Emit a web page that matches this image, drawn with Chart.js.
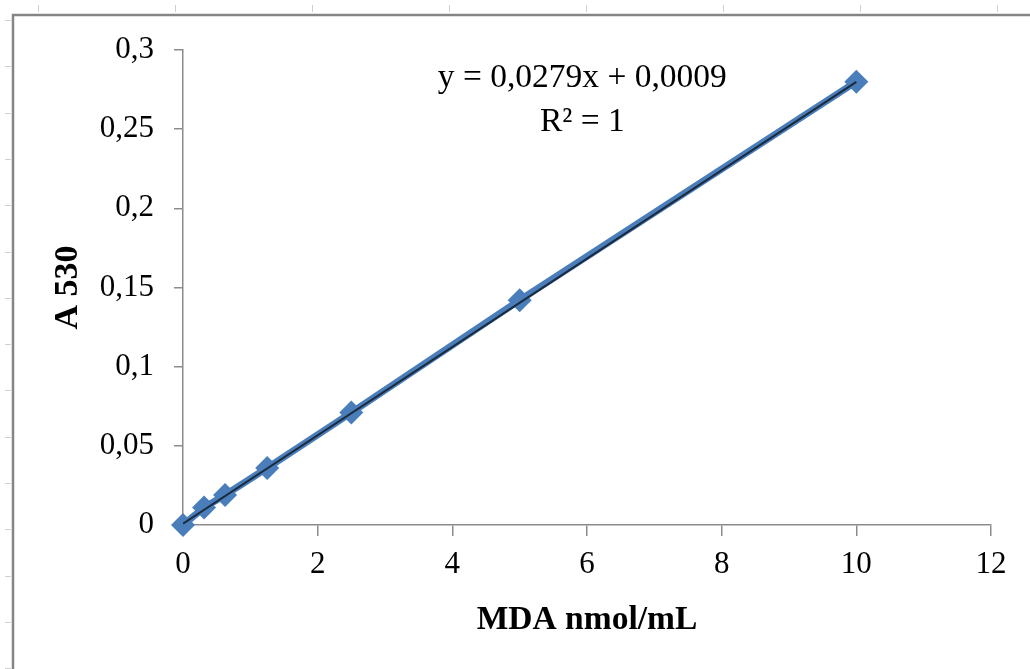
<!DOCTYPE html>
<html>
<head>
<meta charset="utf-8">
<script src="https://cdn.jsdelivr.net/npm/chart.js@4.4.1/dist/chart.umd.min.js"></script>
<style>
  html, body { margin: 0; padding: 0; background: #fff; }
  canvas { display: block; }
</style>
</head>
<body>
<canvas id="mda-curve" width="1030" height="669"></canvas>
<script>
// MDA standard curve, absorbance at 530 nm
const mdaConc = [0, 0.3125, 0.625, 1.25, 2.5, 5, 10];
const absorbance = [0, 0.011, 0.019, 0.036, 0.071, 0.142, 0.280];
const xTickLabels = ['0', '2', '4', '6', '8', '10', '12'];
const yTickLabels = ['0', '0,05', '0,1', '0,15', '0,2', '0,25', '0,3'];
const slope = 0.0279;
const intercept = 0.0009;
const equationLines = ['y = 0,0279x + 0,0009', 'R² = 1'];

const serif = "'Liberation Serif', 'Times New Roman', serif";
const markerBlue = '#4a7ebb';
const trendDark = '#1b2a3c';
const axisGrey = '#8c8c8c';

const points = mdaConc.map((x, i) => ({ x: x, y: absorbance[i] }));
const xMin = Math.min(...mdaConc);
const xMax = Math.max(...mdaConc);
const trend = [xMin, xMax].map((x) => ({ x: x, y: slope * x + intercept }));

// sheet frame and the little ruler marks around it
const frame = {
  id: 'frame',
  beforeDraw(chart) {
    const ctx = chart.ctx;
    ctx.save();
    ctx.strokeStyle = '#d0d0d0';
    ctx.lineWidth = 1;
    for (let y = 20; y < chart.height; y += 46.3) {
      ctx.beginPath();
      ctx.moveTo(5, Math.round(y) + 0.5);
      ctx.lineTo(11, Math.round(y) + 0.5);
      ctx.stroke();
    }
    for (let x = 38; x < chart.width; x += 137) {
      ctx.beginPath();
      ctx.moveTo(Math.round(x) + 0.5, 5);
      ctx.lineTo(Math.round(x) + 0.5, 12);
      ctx.stroke();
    }
    ctx.strokeStyle = '#858585';
    ctx.lineWidth = 2.5;
    ctx.strokeRect(13, 15, chart.width + 20, chart.height + 20);
    ctx.restore();
  },
};

// trendline equation, placed in data units
const equation = {
  id: 'equation',
  afterDraw(chart) {
    const { ctx, scales } = chart;
    const cx = scales.x.getPixelForValue(5.93);
    const cy = scales.y.getPixelForValue(0.2825);
    ctx.save();
    ctx.fillStyle = '#000';
    ctx.font = '33.5px ' + serif;
    ctx.textAlign = 'center';
    ctx.textBaseline = 'middle';
    equationLines.forEach((line, i) => ctx.fillText(line, cx, cy + i * 44));
    ctx.restore();
  },
};

new Chart(document.getElementById('mda-curve'), {
  type: 'scatter',
  data: {
    datasets: [
      {
        data: trend,
        showLine: true,
        borderColor: trendDark,
        borderWidth: 2,
        pointRadius: 0,
        order: 0,
      },
      {
        data: points,
        showLine: true,
        borderColor: markerBlue,
        borderWidth: 7,
        pointStyle: 'rectRot',
        pointRadius: 12,
        pointBackgroundColor: markerBlue,
        pointBorderWidth: 0,
        clip: false,
        order: 1,
      },
    ],
  },
  options: {
    responsive: false,
    animation: false,
    layout: {
      padding: { top: 50, right: 39, left: 0, bottom: 0 },
    },
    scales: {
      x: {
        type: 'linear',
        min: 0,
        max: 12,
        afterFit: (scale) => { scale.height = 144; },
        border: { color: axisGrey, width: 1.5 },
        grid: {
          drawOnChartArea: false,
          color: axisGrey,
          lineWidth: 1.5,
          tickLength: 11,
        },
        ticks: {
          stepSize: 2,
          padding: 10,
          color: '#000',
          font: { family: serif, size: 31, lineHeight: 1.2 },
          callback: (value) => xTickLabels[Math.round(value / 2)],
        },
        title: {
          display: true,
          text: 'MDA nmol/mL',
          color: '#000',
          font: { family: serif, size: 33.5, weight: 'bold', lineHeight: 1.2 },
          padding: { top: 0, bottom: 29 },
        },
      },
      y: {
        min: 0,
        max: 0.3,
        afterFit: (scale) => { scale.width = 183; },
        border: { color: axisGrey, width: 1.5 },
        grid: {
          drawOnChartArea: false,
          color: axisGrey,
          lineWidth: 1.5,
          tickLength: 9,
        },
        ticks: {
          stepSize: 0.05,
          padding: 20,
          color: '#000',
          font: { family: serif, size: 31, lineHeight: 1.2 },
          callback: (value) => yTickLabels[Math.round(value / 0.05)],
        },
        title: {
          display: true,
          text: 'A 530',
          color: '#000',
          font: { family: serif, size: 34, weight: 'bold', lineHeight: 1.2 },
          padding: { top: 48, bottom: 0 },
        },
      },
    },
    plugins: {
      legend: { display: false },
      tooltip: { enabled: false },
    },
  },
  plugins: [frame, equation],
});
</script>
</body>
</html>
